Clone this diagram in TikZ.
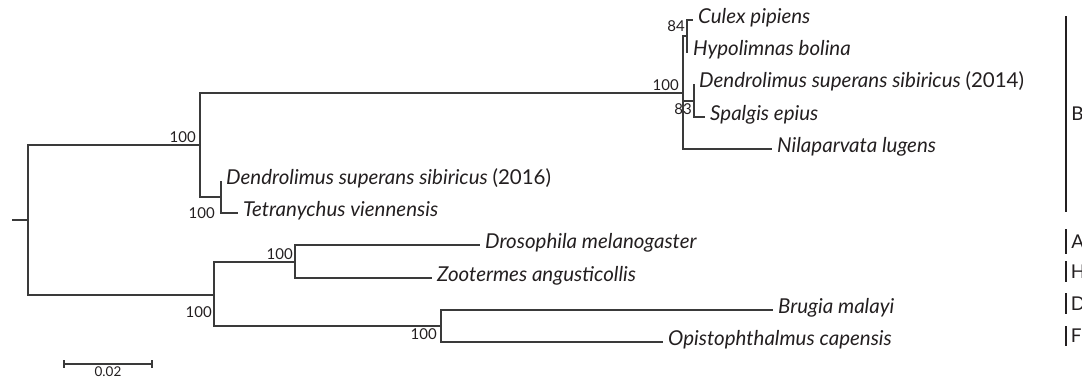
\documentclass[tikz,border=0pt]{standalone}
\usepackage{fontspec}
\setmainfont{Lato}
\definecolor{inkgray}{HTML}{231F20}
\definecolor{treegray}{HTML}{3A3A3A}
\tikzset{
  branch/.style={draw=treegray, line width=1.2pt},
  taxon/.style={anchor=west, inner xsep=5pt, inner ysep=0pt, text=inkgray,
    font=\fontsize{20.5}{22}\selectfont\itshape, text height=1.4ex, text depth=0pt},
  boot/.style={text=inkgray, inner sep=2pt, font=\fontsize{15}{17}\selectfont},
  groupbar/.style={draw=inkgray, line width=1.8pt},
  grouplabel/.style={anchor=west, inner xsep=4pt, text=inkgray, font=\fontsize{19}{20}\selectfont}
}
\begin{document}
\begin{tikzpicture}[x=1pt,y=-1pt]
\useasboundingbox (0,0) rectangle (1082,381);

% inner nodes of the tree
\coordinate (stub) at (12,220);
\coordinate (root) at (28,220);
\coordinate (nUp) at (200,145);
\coordinate (nB) at (683,93);
\coordinate (n84) at (687,36);
\coordinate (n83) at (694,101);
\coordinate (n16) at (221,197);
\coordinate (nLow) at (214,295);
\coordinate (nDZ) at (295,262);
\coordinate (nBO) at (441,326);

% taxa
\node[taxon] (culex) at (693,20) {Culex pipiens};
\node[taxon] (hypo) at (688,52) {Hypolimnas bolina};
\node[taxon] (den14) at (694,84) {Dendrolimus superans sibiricus \textup{(2014)}};
\node[taxon] (spal) at (705,117) {Spalgis epius};
\node[taxon] (nila) at (772,149) {Nilaparvata lugens};
\node[taxon] (den16) at (221,181) {Dendrolimus superans sibiricus \textup{(2016)}};
\node[taxon] (tetra) at (238,213) {Tetranychus viennensis};
\node[taxon] (droso) at (480,245) {Drosophila melanogaster};
\node[taxon] (zoot) at (432,278) {Zootermes angusticollis};
\node[taxon] (brug) at (773,310) {Brugia malayi};
\node[taxon] (opis) at (663,342) {Opistophthalmus capensis};

% branches
\draw[branch] (stub) -- (root);
\draw[branch] (root) |- (nUp);
\draw[branch] (root) |- (nLow);
\draw[branch] (nUp) |- (nB);
\draw[branch] (nUp) |- (n16);
\draw[branch] (nB) |- (n84);
\draw[branch] (nB) |- (n83);
\draw[branch] (nB) |- (nila.west);
\draw[branch] (n84) |- (culex.west);
\draw[branch] (n84) |- (hypo.west);
\draw[branch] (n83) |- (den14.west);
\draw[branch] (n83) |- (spal.west);
\draw[branch] (n16) |- (den16.west);
\draw[branch] (n16) |- (tetra.west);
\draw[branch] (nLow) |- (nDZ);
\draw[branch] (nLow) |- (nBO);
\draw[branch] (nDZ) |- (droso.west);
\draw[branch] (nDZ) |- (zoot.west);
\draw[branch] (nBO) |- (brug.west);
\draw[branch] (nBO) |- (opis.west);

% bootstrap values
\node[boot, anchor=south east] (b84) at ([yshift=2pt]n84) {84};
\node[boot, anchor=south east] (bB) at ([xshift=-2pt]nB) {100};
\node[boot, anchor=north east] (b83) at (n83) {83};
\node[boot, anchor=south east] (bUp) at ([xshift=-2pt]nUp) {100};
\node[boot, anchor=east] (b16) at ([xshift=-4pt]n16 |- tetra.west) {100};
\node[boot, anchor=south east] (bDZ) at (nDZ) {100};
\node[boot, anchor=north east] (bLow) at ([yshift=-9pt]nLow) {100};
\node[boot, anchor=north east] (bBO) at ([xshift=-2pt]nBO) {100};

% groups
\draw[groupbar, line width=2.6pt] (1066,16) -- node[grouplabel] (gB) {B} (1066,212);
\draw[groupbar, line width=2.6pt] (1066,229) -- node[grouplabel] (gA) {A} (1066,254);
\draw[groupbar] (1066,261) -- node[grouplabel] (gH) {H} (1066,282);
\draw[groupbar] (1066,293) -- node[grouplabel] (gD) {D} (1066,314);
\draw[groupbar] (1066,326) -- node[grouplabel] (gF) {F} (1066,346);

% scale bar
\coordinate (sbL) at (64,364);
\coordinate (sbR) at (152,364);
\draw[branch] (sbL) -- node[boot, anchor=north, inner sep=1pt, yshift=-1.5pt, font=\fontsize{13.5}{15}\selectfont] (sbText) {0.02} (sbR);
\draw[branch] ([yshift=4pt]sbL) -- ([yshift=-4pt]sbL);
\draw[branch] ([yshift=4pt]sbR) -- ([yshift=-4pt]sbR);
\end{tikzpicture}
\end{document}
